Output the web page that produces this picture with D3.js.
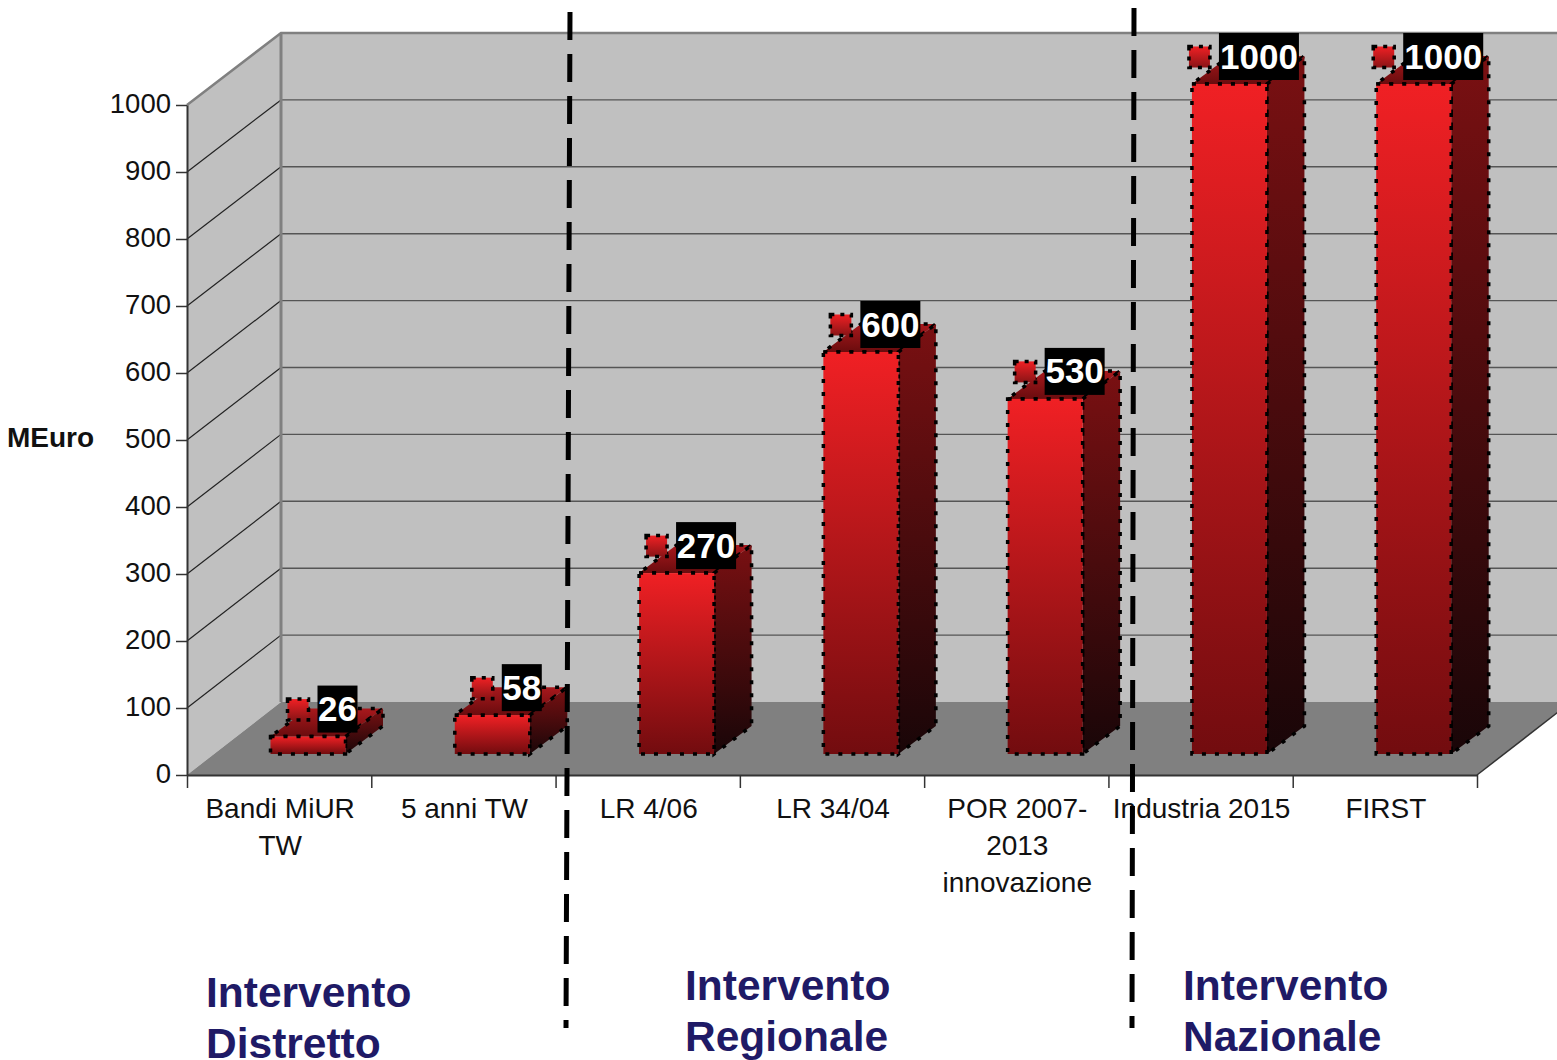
<!DOCTYPE html>
<meta charset="utf-8">
<html>
  <head>
    <style>
      body { margin: 0; background: #fff; }
      text { font-family: "Liberation Sans", Arial, sans-serif; }
      .domain { stroke: #333; stroke-width: 2; }
      .tick line { stroke: #333; stroke-width: 1.5; }
    </style>
  </head>
<body>
<script src="https://d3js.org/d3.v7.min.js"></script>

<div id="my_dataviz"></div>

<script>

    // values
    var categories = ["Bandi MiUR TW", "5 anni TW", "LR 4/06", "LR 34/04", "POR 2007-2013 innovazione", "Industria 2015", "FIRST"]
    var categoryLines = [["Bandi MiUR", "TW"], ["5 anni TW"], ["LR 4/06"], ["LR 34/04"], ["POR 2007-", "2013", "innovazione"], ["Industria 2015"], ["FIRST"]]
    var values = [26, 58, 270, 600, 530, 1000, 1000]
    var yTicks = [0, 100, 200, 300, 400, 500, 600, 700, 800, 900, 1000]
    var groupLabels = [["Intervento", "Distretto"], ["Intervento", "Regionale"], ["Intervento", "Nazionale"]]

    var width = 1557, height = 1060

    var svg = d3.select("#my_dataviz")
      .append("svg")
        .attr("width", width)
        .attr("height", height)
        .style("display", "block")

    // scales, front plane of the 3d box and the back wall
    var x = d3.scaleBand().domain(categories).range([187, 1477])
    var xEdge = d3.scaleLinear().domain([0, categories.length]).range([187, 1477])
    var y = d3.scaleLinear().domain([0, 1000]).range([775, 105])
    var yBack = d3.scaleLinear().domain([0, 1000]).range([702, 33])

    // 3d offsets
    var wallDx = 94
    var barDx = 37.5, barDy = -28
    var barLift = 21, barInset = 83.5, barWidth = 75

    // gradients
    var defs = svg.append("defs")
    function gradient(id, top, bottom) {
      var g = defs.append("linearGradient").attr("id", id)
        .attr("x1", 0).attr("y1", 0).attr("x2", 0).attr("y2", 1)
      g.append("stop").attr("offset", "0%").attr("stop-color", top)
      g.append("stop").attr("offset", "100%").attr("stop-color", bottom)
    }
    gradient("frontFill", "#f02024", "#720c0f")
    gradient("sideFill", "#7a1012", "#190608")
    gradient("topFill", "#a8181c", "#6a0c0e")
    gradient("keyFill", "#f02024", "#8a1416")

    function pts(a) { return a.map(function(p) { return p.join(",") }).join(" ") }

    // walls and floor
    var x0 = xEdge(0), x1 = xEdge(categories.length)
    var xb0 = x0 + wallDx, xb1 = x1 + wallDx

    svg.append("polygon")
      .attr("points", pts([[xb0, yBack(1000)], [xb1, yBack(1000)], [xb1, yBack(0)], [xb0, yBack(0)]]))
      .attr("fill", "#c0c0c0")
    svg.append("polygon")
      .attr("points", pts([[x0, y(1000)], [xb0, yBack(1000)], [xb0, yBack(0)], [x0, y(0)]]))
      .attr("fill", "#c0c0c0")

    // grid lines on side and back wall
    var grid = svg.append("g")
    yTicks.filter(function(d) { return d > 0 && d < 1000 }).forEach(function(d) {
      grid.append("line")
        .attr("x1", x0).attr("y1", y(d))
        .attr("x2", xb0).attr("y2", yBack(d))
        .attr("stroke", "#222").attr("stroke-width", 1.2)
      grid.append("line")
        .attr("x1", xb0).attr("y1", yBack(d))
        .attr("x2", xb1).attr("y2", yBack(d))
        .attr("stroke", "#555").attr("stroke-width", 1.4)
    })

    // top border of the walls
    svg.append("polyline")
      .attr("points", pts([[x0, y(1000)], [xb0, yBack(1000)], [xb1, yBack(1000)]]))
      .attr("fill", "none").attr("stroke", "#808080").attr("stroke-width", 2.5)
    svg.append("line")
      .attr("x1", xb0).attr("y1", yBack(1000))
      .attr("x2", xb0).attr("y2", yBack(0))
      .attr("stroke", "#808080").attr("stroke-width", 3)

    svg.append("polygon")
      .attr("points", pts([[x0, y(0)], [xb0, yBack(0)], [xb1, yBack(0)], [x1, y(0)]]))
      .attr("fill", "#808080")
    svg.append("line")
      .attr("x1", x1).attr("y1", y(0))
      .attr("x2", xb1).attr("y2", yBack(0))
      .attr("stroke", "#333").attr("stroke-width", 1.5)

    // axes
    var yAxis = svg.append("g")
      .attr("transform", "translate(" + x0 + ",0)")
      .call(d3.axisLeft(y).tickValues(yTicks).tickSize(11).tickPadding(5).tickSizeOuter(0).tickFormat(d3.format("d")))
    yAxis.selectAll("text")
      .attr("fill", "#111")
      .attr("dy", "0.28em")
      .style("font-size", "27.5px")
      .style("font-family", '"Liberation Sans", Arial, sans-serif')

    var xAxis = svg.append("g")
      .attr("transform", "translate(0," + y(0) + ")")
      .call(d3.axisBottom(xEdge).ticks(categories.length).tickSize(13).tickSizeOuter(0).tickFormat(""))

    // category labels
    var catLabels = svg.selectAll(".cat")
      .data(categories)
      .enter()
      .append("text")
        .attr("class", "cat")
        .attr("text-anchor", "middle")
        .attr("fill", "#111")
        .style("font-size", "28px")
    catLabels.each(function(d, i) {
      d3.select(this).selectAll("tspan")
        .data(categoryLines[i])
        .enter()
        .append("tspan")
          .attr("x", x(d) + x.bandwidth() / 2 + 1)
          .attr("y", function(l, j) { return 818 + j * 37 })
          .text(function(l) { return l })
    })

    // bars
    var bars = svg.selectAll(".bar")
      .data(categories)
      .enter()
      .append("g")
        .attr("class", "bar")

    var dotted = function(sel) {
      sel.attr("stroke", "#000").attr("stroke-width", 3.5).attr("stroke-dasharray", "4 9")
    }

    bars.each(function(d, i) {
      var g = d3.select(this)
      var left = x(d) + barInset, right = left + barWidth
      var bottom = y(0) - barLift, top = y(values[i]) - barLift

      g.append("polygon")
        .attr("points", pts([[left, top], [right, top], [right + barDx, top + barDy], [left + barDx, top + barDy]]))
        .attr("fill", "url(#topFill)")
        .call(dotted)
      g.append("polygon")
        .attr("points", pts([[right, top], [right + barDx, top + barDy], [right + barDx, bottom + barDy], [right, bottom]]))
        .attr("fill", "url(#sideFill)")
        .call(dotted)
      g.append("rect")
        .attr("x", left).attr("y", top)
        .attr("width", barWidth).attr("height", bottom - top)
        .attr("fill", "url(#frontFill)")
        .call(dotted)
    })

    // value labels with legend key
    bars.each(function(d, i) {
      var g = d3.select(this)
      var cx = x(d) + barInset + 67
      var cy = y(values[i]) - barLift - 27.5

      var box = g.append("rect").attr("fill", "#000")
      g.append("text")
        .attr("x", cx).attr("y", cy + 12)
        .attr("text-anchor", "middle")
        .attr("fill", "#fff")
        .style("font-size", "35px")
        .style("font-weight", "bold")
        .text(values[i])

      var w = String(values[i]).length * 20
      box.attr("x", cx - w / 2).attr("y", cy - 23.5).attr("width", w).attr("height", 47)

      g.append("rect")
        .attr("x", cx - w / 2 - 30).attr("y", cy - 10)
        .attr("width", 21).attr("height", 21)
        .attr("fill", "url(#keyFill)")
        .attr("stroke", "#000").attr("stroke-width", 3.5).attr("stroke-dasharray", "4 6")
    })

    // y title
    svg.append("text")
      .attr("x", 7).attr("y", 447)
      .attr("fill", "#111")
      .style("font-size", "28px")
      .style("font-weight", "bold")
      .text("MEuro")

    // group labels
    var groupX = [206, 685, 1183]
    var groupY = [1007, 1000, 1000]
    groupLabels.forEach(function(lines, i) {
      lines.forEach(function(l, j) {
        svg.append("text")
          .attr("x", groupX[i]).attr("y", groupY[i] + j * 51)
          .attr("fill", "#1f1a66")
          .style("font-size", "42.5px")
          .style("font-weight", "bold")
          .text(l)
      })
    })

    // separators
    var sepLines = [[570, 12, 566, 1028], [1134, 8, 1132, 1028]]
    svg.selectAll(".sep")
      .data(sepLines)
      .enter()
      .append("line")
        .attr("class", "sep")
        .attr("x1", function(d) { return d[0] })
        .attr("y1", function(d) { return d[1] })
        .attr("x2", function(d) { return d[2] })
        .attr("y2", function(d) { return d[3] })
        .attr("stroke", "#000")
        .attr("stroke-width", 5)
        .attr("stroke-dasharray", "28 14")

</script>
</body>
</html>
